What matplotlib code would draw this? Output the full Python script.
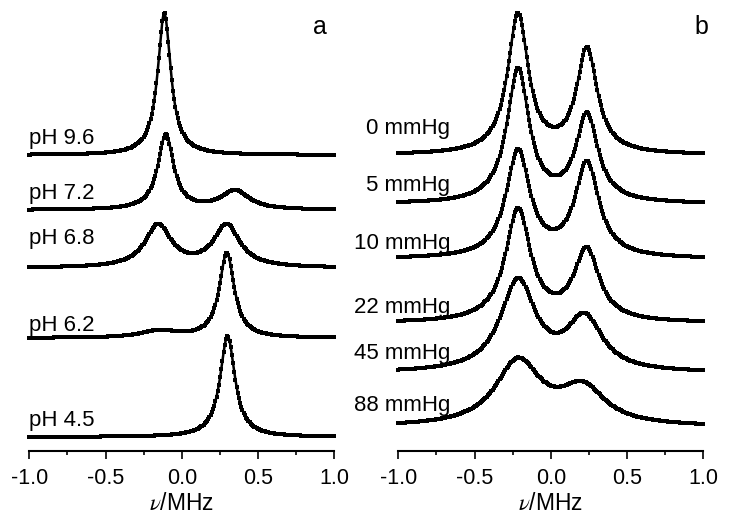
import matplotlib
matplotlib.use('Agg')
import matplotlib.pyplot as plt
import numpy as np

plt.rcParams['font.family'] = ['Liberation Sans', 'DejaVu Sans']
plt.rcParams['mathtext.fontset'] = 'stix'
plt.rcParams['axes.unicode_minus'] = False

# ---- panel a : pH series (top to bottom) ----
ph_labels = ['pH 9.6', 'pH 7.2', 'pH 6.8', 'pH 6.2', 'pH 4.5']
ph_base = [296, 241, 183, 113, 14]              # baseline of each trace
ph_centers = [[-0.115], [-0.105, 0.35], [-0.155, 0.295], [-0.15, 0.295], [0.30]]
ph_heights = [[142], [75, 19], [42, 42], [7, 85], [101]]
ph_widths = [[0.052], [0.062, 0.11], [0.105, 0.105], [0.14, 0.059], [0.059]]
ph_label_y = [313, 258, 213, 126, 31]

# ---- panel b : O2 pressure series ----
po2_labels = ['0 mmHg', '5 mmHg', '10 mmHg', '22 mmHg', '45 mmHg', '88 mmHg']
po2_base = [296, 247, 192, 128, 78, 24]
po2_centers = [[-0.215, 0.237], [-0.215, 0.237], [-0.215, 0.237],
               [-0.215, 0.235], [-0.215, 0.222], [-0.215, 0.21]]
po2_heights = [[139, 104], [133, 87], [106, 94], [112, 71], [90, 52], [64, 36]]
po2_widths = [0.082, 0.088, 0.095, 0.10, 0.14, 0.18]
po2_label_y = [323, 266, 208, 144, 98, 46]

nu = np.linspace(-1.0, 1.0, 260)


def spectrum(x, cs, hs, ws):
    y = np.zeros_like(x)
    for c, h, w in zip(cs, hs, ws):
        y += h / (1.0 + ((x - c) / w) ** 2)
    return y


def style_axis(ax):
    ax.set_xlim(-1.0, 1.0)
    ax.set_ylim(0, 451)
    for s in ['left', 'right', 'top']:
        ax.spines[s].set_visible(False)
    ax.spines['bottom'].set_linewidth(1.5)
    ax.set_yticks([])
    ax.set_xticks([-1.0, -0.5, 0.0, 0.5, 1.0])
    ax.set_xticklabels(['-1.0', '-0.5', '0.0', '0.5', '1.0'])
    ax.set_xticks([-0.75, -0.25, 0.25, 0.75], minor=True)
    ax.tick_params(axis='x', which='major', length=5.5, width=1.2, labelsize=15.5, pad=7)
    ax.tick_params(axis='x', which='minor', length=3, width=1.2)
    ax.set_xlabel(r'$\nu$/MHz', fontsize=16.5, labelpad=2)


def draw(ax, y):
    ax.plot(nu, y, color='black', lw=1.8, clip_on=False)
    ax.plot(nu, y, 's', color='black', ms=2.4, mew=0, clip_on=False)


fig = plt.figure(figsize=(7.29, 5.24), dpi=100)
ax1 = fig.add_axes([0.0402, 0.1393, 0.4184, 0.8607])
ax2 = fig.add_axes([0.5464, 0.1393, 0.4184, 0.8607])

for i in range(len(ph_labels)):
    y = ph_base[i] + spectrum(nu, ph_centers[i], ph_heights[i], ph_widths[i])
    draw(ax1, y)
    ax1.text(-1.0, ph_label_y[i], ph_labels[i], fontsize=16, ha='left', va='center')

for i in range(len(po2_labels)):
    w = po2_widths[i]
    y = po2_base[i] + spectrum(nu, po2_centers[i], po2_heights[i], [w, w])
    draw(ax2, y)
    ax2.text(-0.66, po2_label_y[i], po2_labels[i], fontsize=16, ha='right', va='center')

style_axis(ax1)
style_axis(ax2)
ax1.text(0.906, 424, 'a', fontsize=18, ha='center', va='center')
ax2.text(0.99, 424, 'b', fontsize=18, ha='center', va='center')

fig.savefig('out.png', dpi=100)
